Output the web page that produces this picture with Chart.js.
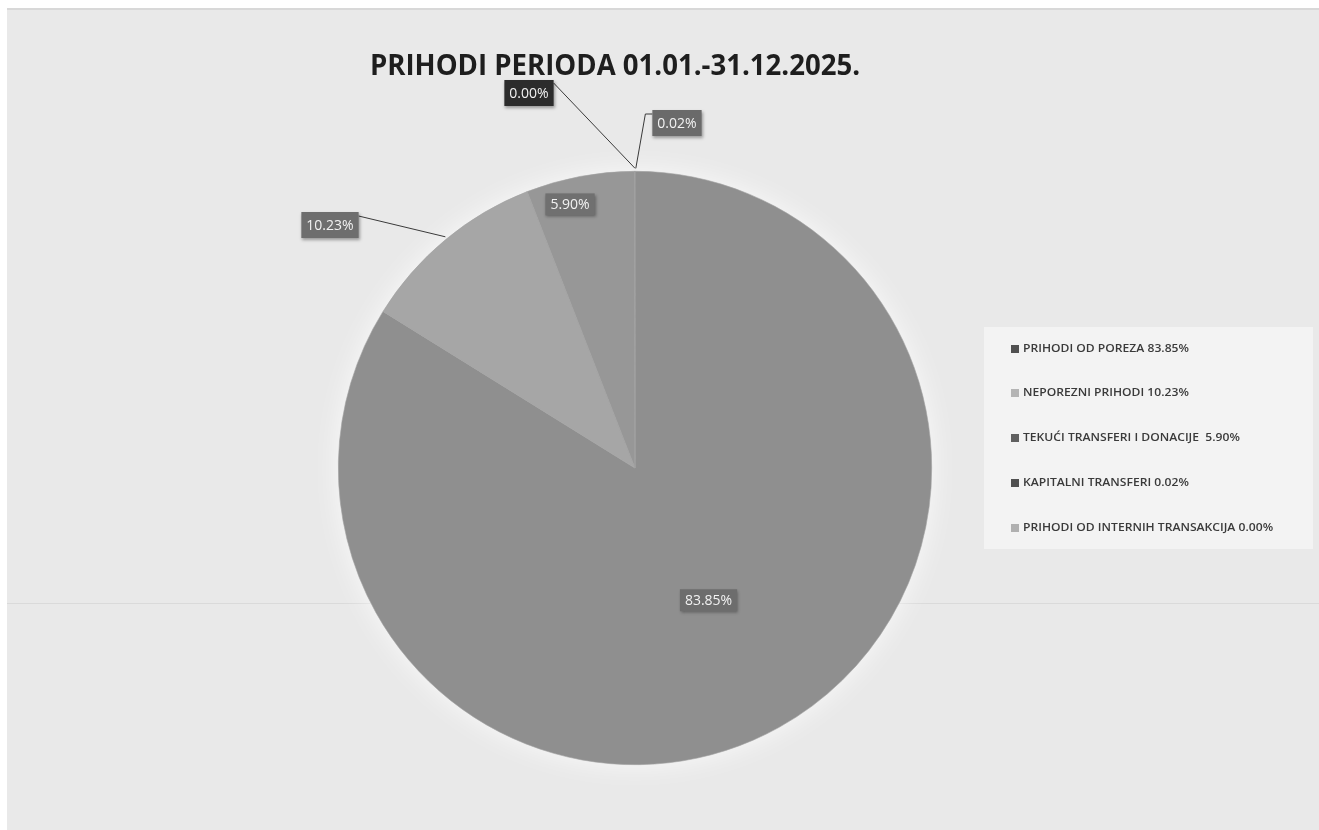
<!DOCTYPE html>
<html>
<head>
<meta charset="utf-8">
<script src="https://cdn.jsdelivr.net/npm/chart.js@4.4.1/dist/chart.umd.min.js"></script>
<style>
html,body{margin:0;padding:0;background:#e9e9e9;}
canvas{display:block;}
</style>
</head>
<body>
<canvas id="c" width="1319" height="830"></canvas>
<script>
// ---- data ----
const chartTitle = "PRIHODI PERIODA 01.01.-31.12.2025.";
const categories = ["PRIHODI OD POREZA", "NEPOREZNI PRIHODI", "TEKUĆI TRANSFERI I DONACIJE ", "KAPITALNI TRANSFERI", "PRIHODI OD INTERNIH TRANSAKCIJA"];
const shares = [83.85, 10.23, 5.90, 0.02, 0.00];
const sliceColors = ["#8f8f8f", "#a6a6a6", "#979797", "#8a8a8a", "#9c9c9c"];
const legendMarkerColors = ["#505050", "#b4b4b4", "#606060", "#505050", "#b0b0b0"];

const fmt = v => v.toFixed(2) + "%";

// label placement (relative to pie centre, in radius units / pixels)
const labelCfg = [
  {type:"in", r:0.51, box:"#6d6d6d"},
  {type:"out", dx:-305, dy:-243, box:"#6e6e6e", lead:"right"},
  {type:"in", r:0.915, angAdj:-0.055, box:"#707070"},
  {type:"out", dx:42, dy:-345, box:"#6a6a6a", lead:"elbow"},
  {type:"out", dx:-106, dy:-375, box:"#2c2c2c", lead:"rightTop"}
];

const bgPlugin = {
  id:"bg",
  beforeDraw(chart){
    const ctx = chart.ctx, W = chart.width, H = chart.height;
    ctx.save();
    ctx.fillStyle = "#e9e9e9";
    ctx.fillRect(0,0,W,H);
    // scan borders
    ctx.fillStyle = "#ffffff";
    ctx.fillRect(0,0,W,8);
    ctx.fillRect(0,0,7,H);
    ctx.fillStyle = "#d8d8d8";
    ctx.fillRect(7,8,W-7,2);
    // faint horizontal line
    ctx.fillStyle = "#dadada";
    ctx.fillRect(7,603,W-7,1);
    // legend panel
    ctx.fillStyle = "#f3f3f3";
    ctx.fillRect(984,327,W-984-6,222);
    ctx.restore();
  },
  beforeDatasetsDraw(chart){
    const arc = chart.getDatasetMeta(0).data[0];
    const ctx = chart.ctx;
    ctx.save();
    ctx.shadowColor = "rgba(255,255,255,0.85)";
    ctx.shadowBlur = 30;
    ctx.fillStyle = "#eeeeee";
    ctx.beginPath();
    ctx.arc(arc.x, arc.y, arc.outerRadius - 2, 0, Math.PI*2);
    ctx.fill();
    ctx.restore();
  },
  afterDatasetsDraw(chart){
    const ctx = chart.ctx;
    const meta = chart.getDatasetMeta(0);
    // title
    ctx.save();
    ctx.font = "bold 28px 'Open Sans'";
    ctx.fillStyle = "#1e1e1e";
    ctx.textBaseline = "alphabetic";
    const tw = ctx.measureText(chartTitle).width;
    const targetW = 490;
    ctx.translate(370, 75);
    ctx.scale(targetW/tw, 1);
    ctx.fillText(chartTitle, 0, 0);
    ctx.restore();

    // data labels
    meta.data.forEach((arc, i) => {
      const cfg = labelCfg[i];
      const cx = arc.x, cy = arc.y, R = arc.outerRadius;
      const mid = (arc.startAngle + arc.endAngle)/2;
      const text = fmt(shares[i]);
      ctx.save();
      ctx.font = "14px 'Open Sans'";
      const w = ctx.measureText(text).width + 10;
      const h = cfg.type === "in" ? 22 : 26;
      let bx, by;
      if (cfg.type === "in") {
        const a = mid + (cfg.angAdj || 0);
        bx = cx + Math.cos(a)*R*cfg.r;
        by = cy + Math.sin(a)*R*cfg.r;
      } else {
        bx = cx + cfg.dx;
        by = cy + cfg.dy;
        // leader line
        const ex = cx + Math.cos(mid)*R, ey = cy + Math.sin(mid)*R - 3;
        ctx.strokeStyle = "#3a3a3a";
        ctx.lineWidth = 1;
        ctx.beginPath();
        if (cfg.lead === "right") {
          ctx.moveTo(bx + w/2, by - h/2 + 4);
          ctx.lineTo(ex, ey);
        } else if (cfg.lead === "rightTop") {
          ctx.moveTo(bx + w/2, by - h/2 + 3);
          ctx.lineTo(ex, ey);
        } else {
          ctx.moveTo(bx - w/2, by - h/2 + 4);
          ctx.lineTo(bx - w/2 - 7, by - h/2 + 4);
          ctx.lineTo(ex + 1, ey);
        }
        ctx.stroke();
      }
      ctx.shadowColor = "rgba(0,0,0,0.35)";
      ctx.shadowBlur = 3;
      ctx.shadowOffsetX = 1;
      ctx.shadowOffsetY = 2;
      ctx.fillStyle = cfg.box;
      ctx.fillRect(bx - w/2, by - h/2, w, h);
      ctx.shadowColor = "transparent";
      ctx.fillStyle = "#f2f2f2";
      ctx.textAlign = "center";
      ctx.textBaseline = "middle";
      ctx.fillText(text, bx, by + 1);
      ctx.restore();
    });

    // legend
    ctx.save();
    ctx.font = "600 11px 'Open Sans'";
    ctx.textBaseline = "middle";
    const firstLabel = categories[0] + " " + fmt(shares[0]);
    const sc = 166 / ctx.measureText(firstLabel).width;
    const ys = [349, 393, 438, 483, 528];
    categories.forEach((c, i) => {
      const label = c + " " + fmt(shares[i]);
      ctx.fillStyle = legendMarkerColors[i];
      ctx.fillRect(1011, ys[i]-4, 8, 8);
      ctx.save();
      ctx.translate(1023, ys[i]);
      ctx.scale(sc, 1);
      ctx.fillStyle = "#3a3a3a";
      ctx.fillText(label, 0, 0);
      ctx.restore();
    });
    ctx.restore();
  }
};

new Chart(document.getElementById("c"), {
  type: "pie",
  data: {
    labels: categories,
    datasets: [{
      data: shares,
      backgroundColor: sliceColors,
      borderColor: "#a3a3a3",
      borderWidth: 0.6
    }]
  },
  options: {
    responsive: false,
    animation: false,
    devicePixelRatio: 1,
    layout: { padding: { top: 171, bottom: 65, left: 338, right: 387 } },
    plugins: {
      legend: { display: false },
      tooltip: { enabled: false },
      title: { display: false }
    }
  },
  plugins: [bgPlugin]
});
</script>
</body>
</html>
